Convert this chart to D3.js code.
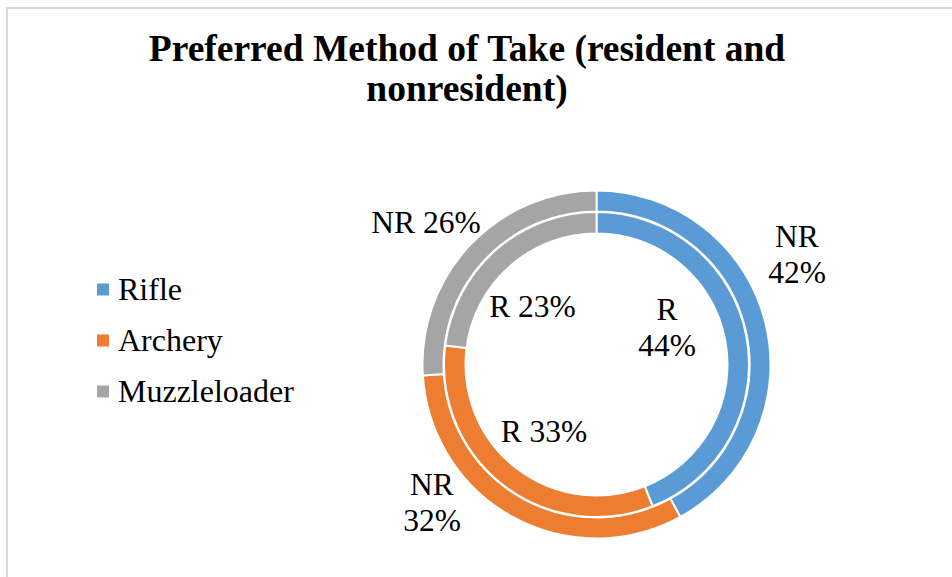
<!DOCTYPE html>
<html>
<head>
<meta charset="utf-8">
<script src="https://d3js.org/d3.v7.min.js"></script>
<style>
  html, body { margin: 0; padding: 0; background: #fff; }
  svg text { font-family: "Liberation Serif", "Times New Roman", serif; fill: #000; }
</style>
</head>
<body>
<svg id="chart" width="952" height="577"></svg>
<script>
// data
const categories = ['Rifle', 'Archery', 'Muzzleloader'];
const residentPct = [44, 33, 23];      // inner ring
const nonresidentPct = [42, 32, 26];   // outer ring
const colors = ['#5B9BD5', '#ED7D31', '#A5A5A5'];
const titleLines = ['Preferred Method of Take (resident and', 'nonresident)'];

const svg = d3.select('#chart');
const cx = 596.5, cy = 364.5;

// chart area border (only top and left edges show in the frame)
svg.append('rect')
  .attr('x', 7).attr('y', 8)
  .attr('width', 1000).attr('height', 1000)
  .attr('fill', 'none')
  .attr('stroke', '#d9d9d9')
  .attr('stroke-width', 2);

// title
svg.append('g').selectAll('text')
  .data(titleLines)
  .enter().append('text')
  .attr('x', 467)
  .attr('y', (d, i) => 61 + i * 39.5)
  .attr('text-anchor', 'middle')
  .style('font-size', '37.5px')
  .style('font-weight', 'bold')
  .text(d => d);

const color = d3.scaleOrdinal().domain(categories).range(colors);
const pie = d3.pie().sort(null).value(d => d.v);

function ring(values, r0, r1, prefix) {
  const data = pie(values.map((v, i) => ({ cat: categories[i], v: v, prefix: prefix })));
  const arc = d3.arc().innerRadius(r0).outerRadius(r1);
  const g = svg.append('g').attr('transform', `translate(${cx},${cy})`);
  g.selectAll('path')
    .data(data)
    .enter().append('path')
    .attr('d', arc)
    .attr('fill', d => color(d.data.cat))
    .attr('stroke', '#fff')
    .attr('stroke-width', 2);
  return data;
}

const outer = ring(nonresidentPct, 153, 174, 'NR');
const inner = ring(residentPct, 131, 152.5, 'R');

// data labels: baseline spots picked to match the reference layout
const labelSpots = {
  NR: [ { x: 797, y: 246.5, lines: 2 }, { x: 432, y: 495, lines: 2 }, { x: 426, y: 233.3, lines: 1 } ],
  R:  [ { x: 667, y: 319.5, lines: 2 }, { x: 544, y: 441.7, lines: 1 }, { x: 532.5, y: 316.7, lines: 1 } ]
};

function labels(data, prefix) {
  const g = svg.append('g');
  data.forEach((d, i) => {
    const spot = labelSpots[prefix][i];
    const pct = d.data.v + '%';
    const lines = spot.lines === 2 ? [prefix, pct] : [prefix + ' ' + pct];
    g.append('text')
      .attr('x', spot.x)
      .attr('y', spot.y)
      .attr('text-anchor', 'middle')
      .style('font-size', '31.5px')
      .selectAll('tspan')
      .data(lines)
      .enter().append('tspan')
      .attr('x', spot.x)
      .attr('dy', (l, j) => j === 0 ? 0 : 36.3)
      .text(l => l);
  });
}
labels(outer, 'NR');
labels(inner, 'R');

// legend
const legend = svg.append('g').selectAll('g')
  .data(categories)
  .enter().append('g')
  .attr('transform', (d, i) => `translate(97,${300 + i * 51})`);
legend.append('rect')
  .attr('x', 0).attr('y', -16.5)
  .attr('width', 12).attr('height', 12)
  .attr('fill', d => color(d));
legend.append('text')
  .attr('x', 21).attr('y', 0)
  .style('font-size', '32px')
  .text(d => d);
</script>
</body>
</html>
